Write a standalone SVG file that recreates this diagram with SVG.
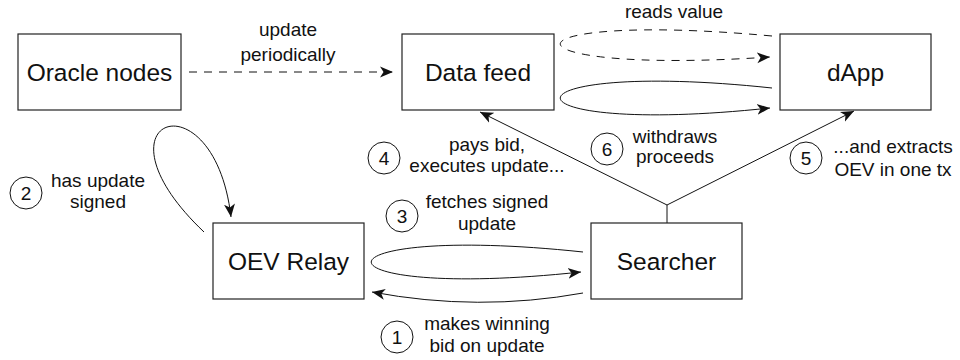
<svg xmlns="http://www.w3.org/2000/svg" width="960" height="360" viewBox="0 0 960 360">
<style>
.box{fill:#fff;stroke:#222;stroke-width:1.2}
.nt{font-family:"Liberation Sans",Arial,sans-serif;font-size:24.5px;text-anchor:middle;fill:#111}
.lt{font-family:"Liberation Sans",Arial,sans-serif;font-size:19px;text-anchor:middle;fill:#111}
.num{fill:none;stroke:#111;stroke-width:1}
.c{fill:none;stroke:#111;stroke-width:1}
.d{stroke-dasharray:8 7}
.a{marker-end:url(#ah)}
</style>
<defs>
<marker id="ah" markerUnits="userSpaceOnUse" markerWidth="14" markerHeight="12" viewBox="0 0 14 12" refX="13" refY="6" orient="auto">
<path d="M13,6 L0,0.5 L3.5,6 L0,11.5 Z" fill="#111"/>
</marker>
</defs>
<rect width="960" height="360" fill="#fff"/>
<g id="connectors">
<path class="c d a" d="M189 72 L393 72"/>
<path class="c a" d="M204 232 C84 118, 214 72, 231 217"/>
<path class="c d a" d="M772 36 C490 10, 490 76, 770 57"/>
<path class="c a" d="M772 88 C490 58, 490 138, 770 108"/>
<path class="c a" d="M583 252 C301 222, 301 302, 581 272"/>
<path class="c a" d="M583 293 Q478 312 372 292"/>
<path class="c" d="M667 223 L667 205"/>
<path class="c a" d="M667 205 L480 112"/>
<path class="c a" d="M667 205 L854 111"/>
</g>
<g id="oracle"><rect class="box" x="18" y="34" width="163" height="76"/><text class="nt" x="99.5" y="80.5">Oracle nodes</text></g>
<g id="datafeed"><rect class="box" x="402" y="34" width="152" height="76"/><text class="nt" x="478" y="80.5">Data feed</text></g>
<g id="dapp"><rect class="box" x="780" y="34" width="151" height="76"/><text class="nt" x="855.5" y="80.5">dApp</text></g>
<g id="relay"><rect class="box" x="213" y="223" width="151" height="76"/><text class="nt" x="288.5" y="269.5">OEV Relay</text></g>
<g id="searcher"><rect class="box" x="591" y="223" width="151" height="76"/><text class="nt" x="666.5" y="269.5">Searcher</text></g>
<g id="labels">
<text class="lt" x="288" y="36">update</text>
<text class="lt" x="288" y="61">periodically</text>
<text class="lt" x="674" y="18">reads value</text>
<circle class="num" cx="384" cy="158" r="16"/><text class="lt" x="384" y="165">4</text>
<text class="lt" x="487" y="151">pays bid,</text>
<text class="lt" x="487" y="172">executes update...</text>
<circle class="num" cx="607" cy="149" r="16"/><text class="lt" x="607" y="156">6</text>
<text class="lt" x="675" y="143">withdraws</text>
<text class="lt" x="675" y="163">proceeds</text>
<circle class="num" cx="806" cy="158" r="16"/><text class="lt" x="806" y="165">5</text>
<text class="lt" x="893" y="153">...and extracts</text>
<text class="lt" x="893" y="176">OEV in one tx</text>
<circle class="num" cx="26" cy="193" r="16"/><text class="lt" x="26" y="200">2</text>
<text class="lt" x="98" y="187">has update</text>
<text class="lt" x="98" y="208">signed</text>
<circle class="num" cx="402" cy="216" r="16"/><text class="lt" x="402" y="223">3</text>
<text class="lt" x="487" y="208">fetches signed</text>
<text class="lt" x="487" y="230">update</text>
<circle class="num" cx="397" cy="337" r="16"/><text class="lt" x="397" y="344">1</text>
<text class="lt" x="487" y="330">makes winning</text>
<text class="lt" x="487" y="352">bid on update</text>
</g>
</svg>
